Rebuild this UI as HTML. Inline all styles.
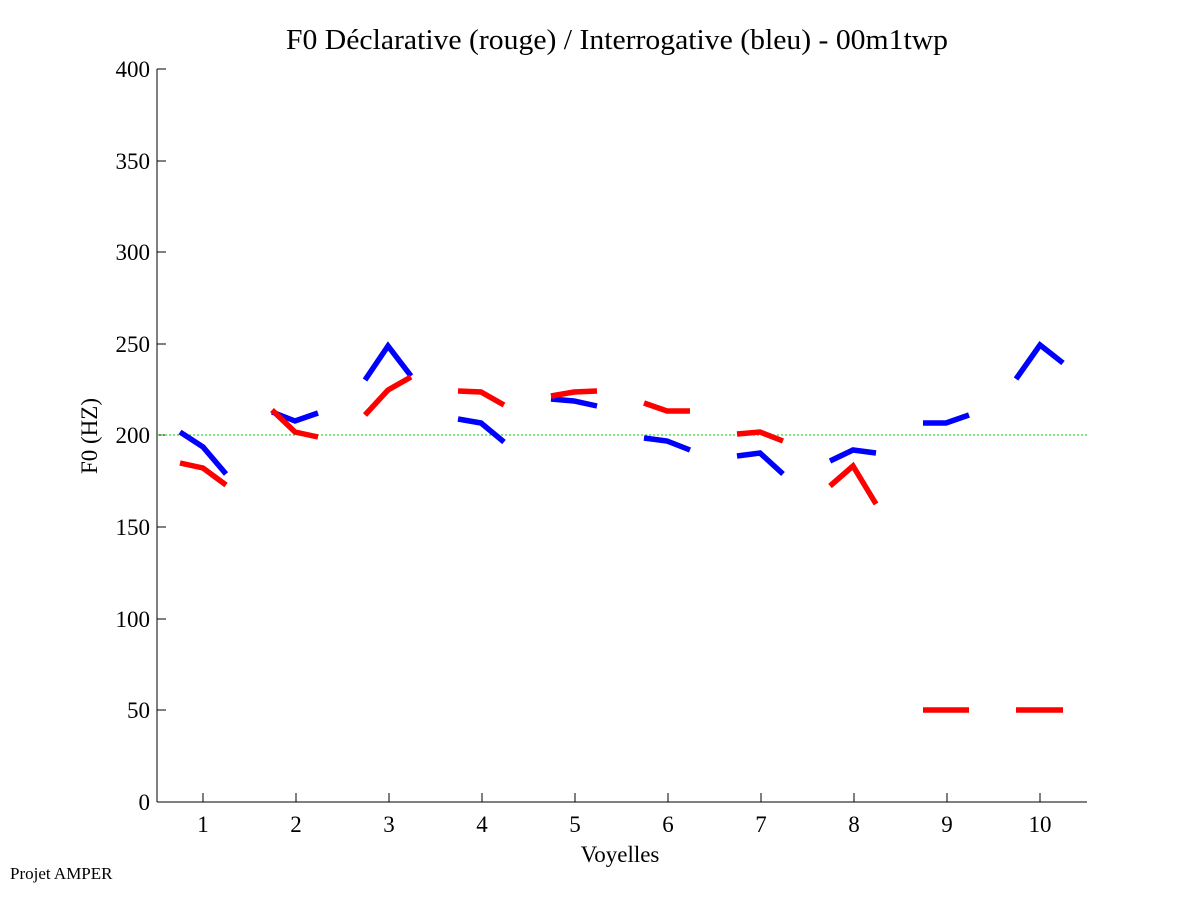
<!DOCTYPE html>
<html><head><meta charset="utf-8"><style>body{margin:0;background:#fff}</style></head><body>
<svg width="1201" height="901" xmlns="http://www.w3.org/2000/svg" font-family="Liberation Serif, serif">
<rect width="1201" height="901" fill="#fff"/>
<text x="617" y="49" font-size="29" text-anchor="middle" textLength="662" lengthAdjust="spacingAndGlyphs">F0 Déclarative (rouge) / Interrogative (bleu) - 00m1twp</text>
<g stroke="#000" stroke-width="1" fill="none">
<line x1="157" y1="69" x2="157" y2="802"/>
<line x1="157" y1="802" x2="1087" y2="802"/>
<g>
<line x1="157" y1="69" x2="166" y2="69"/><line x1="157" y1="161" x2="166" y2="161"/><line x1="157" y1="252" x2="166" y2="252"/><line x1="157" y1="344" x2="166" y2="344"/><line x1="157" y1="435" x2="166" y2="435"/><line x1="157" y1="527" x2="166" y2="527"/><line x1="157" y1="619" x2="166" y2="619"/><line x1="157" y1="710" x2="166" y2="710"/>
<line x1="203" y1="802" x2="203" y2="793"/><line x1="296" y1="802" x2="296" y2="793"/><line x1="389" y1="802" x2="389" y2="793"/><line x1="482" y1="802" x2="482" y2="793"/><line x1="575" y1="802" x2="575" y2="793"/><line x1="668" y1="802" x2="668" y2="793"/><line x1="761" y1="802" x2="761" y2="793"/><line x1="854" y1="802" x2="854" y2="793"/><line x1="947" y1="802" x2="947" y2="793"/><line x1="1040" y1="802" x2="1040" y2="793"/>
</g></g>
<g font-size="23" text-anchor="end">
<text x="150" y="77">400</text><text x="150" y="169">350</text><text x="150" y="260">300</text><text x="150" y="352">250</text><text x="150" y="443">200</text><text x="150" y="535">150</text><text x="150" y="627">100</text><text x="150" y="718">50</text><text x="150" y="810">0</text>
</g>
<g font-size="23" text-anchor="middle">
<text x="203" y="832">1</text><text x="296" y="832">2</text><text x="389" y="832">3</text><text x="482" y="832">4</text><text x="575" y="832">5</text><text x="668" y="832">6</text><text x="761" y="832">7</text><text x="854" y="832">8</text><text x="947" y="832">9</text><text x="1040" y="832">10</text>
<text x="620" y="862">Voyelles</text>
<text transform="translate(97,436) rotate(-90)">F0 (HZ)</text>
</g>
<text x="10" y="879" font-size="17">Projet AMPER</text>
<line x1="157" y1="435" x2="1087" y2="435" stroke="#0c0" stroke-width="1" stroke-dasharray="2,2"/>
<g fill="none" stroke="#00f" stroke-width="5.5">
<polyline points="180,432 203,447 226,474"/>
<polyline points="272,412 295,421 318,413"/>
<polyline points="365,380 388,346 411,376"/>
<polyline points="458,419 481,423 504,442"/>
<polyline points="551,399 574,401 597,406"/>
<polyline points="644,438 667,441 690,450"/>
<polyline points="737,456 760,453 783,474"/>
<polyline points="830,461 853,450 876,453"/>
<polyline points="923,423 946,423 969,415"/>
<polyline points="1016,379 1040,345 1063,363"/>
</g>
<g fill="none" stroke="#f00" stroke-width="5.5">
<polyline points="180,463 203,468 226,485"/>
<polyline points="272,410 295,432 318,437"/>
<polyline points="365,415 388,390 411,377"/>
<polyline points="458,391 481,392 504,405"/>
<polyline points="551,396 574,392 597,391"/>
<polyline points="644,403 667,411 690,411"/>
<polyline points="737,434 760,432 783,441"/>
<polyline points="830,486 853,466 876,504"/>
<polyline points="923,710 969,710"/>
<polyline points="1016,710 1063,710"/>
</g>
</svg>
</body></html>
